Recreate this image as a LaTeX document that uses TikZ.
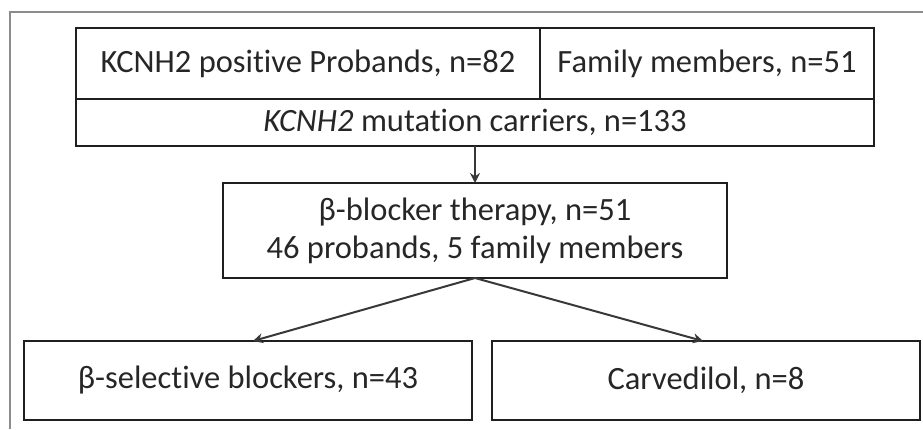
\documentclass[tikz,border=0pt]{standalone}
\usepackage{fontspec}
\setmainfont{Carlito}[Ligatures=NoCommon]
\usetikzlibrary{arrows.meta}
\begin{document}
\begin{tikzpicture}[x=1pt,y=-1pt,
  box/.style={draw=black!88,line width=2.2pt,inner sep=0pt,outer sep=0pt,
    font=\fontsize{32.5}{38}\selectfont,text=black!85,align=center},
  conn/.style={draw=black!78,line width=2pt,-{Stealth[length=10pt,width=10pt]}},
  frameline/.style={draw=black!45,line width=1.2pt}]
\useasboundingbox (0,0) rectangle (923,429);
\coordinate (f1) at (10,429);
\coordinate (f2) at (10,12);
\coordinate (f3) at (923,12);
\draw[frameline] (f1) -- (f2) -- (f3);
\node[box,minimum width=464,minimum height=71] (A) at (308,63.5) {KCNH2 positive Probands, n=82};
\node[box,minimum width=334,minimum height=71] (B) at (707,63.5) {Family members, n=51};
\node[box,minimum width=798,minimum height=47] (C) at (475,122.5) {\textit{KCNH2} mutation carriers, n=133};
\node[box,minimum width=504,minimum height=95] (D) at (475,230.5) {β-blocker therapy, n=51\\46 probands, 5 family members};
\node[box,minimum width=448,minimum height=79] (E) at (248,380.5) {β-selective blockers, n=43};
\node[box,minimum width=428,minimum height=79] (F) at (706,380.5) {Carvedilol, n=8};
\draw[conn] (C.south) -- (D.north);
\draw[conn] (D.south) -- ([xshift=5pt]E.north);
\draw[conn] (D.south) -- ([xshift=-3pt]F.north);
\end{tikzpicture}
\end{document}
